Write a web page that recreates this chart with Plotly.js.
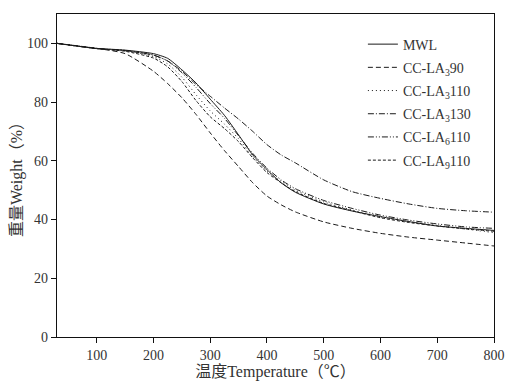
<!DOCTYPE html>
<html>
<head>
<meta charset="utf-8">
<script src="https://cdn.plot.ly/plotly-3.0.1.min.js"></script>
<style>html,body{margin:0;padding:0;background:#fff;}#chart{width:505px;height:382px;}</style>
</head>
<body>
<div id="chart"></div>
<script>
const temps = [30, 100, 150, 200, 225, 250, 275, 300, 325, 350, 375, 400, 425, 450, 500, 550, 600, 650, 700, 750, 800];
const mwl      = [100, 98.3, 97.7, 96.5, 94.9, 91.0, 86.5, 81.0, 75.5, 68.8, 62.0, 57.0, 52.5, 49.3, 45.3, 42.9, 41.0, 39.3, 37.8, 37.0, 36.3];
const la3_90   = [100, 98.3, 96.5, 90.5, 86.3, 81.5, 75.8, 69.5, 63.5, 58.0, 52.5, 48.0, 45.0, 42.6, 39.2, 37.0, 35.3, 34.0, 33.0, 32.0, 31.0];
const la3_110  = [100, 98.2, 97.5, 95.5, 93.0, 88.5, 82.5, 77.0, 72.5, 67.5, 61.5, 56.5, 53.0, 50.0, 46.0, 43.2, 41.0, 39.3, 38.0, 36.8, 35.5];
const la3_130  = [100, 98.2, 97.5, 96.0, 94.0, 90.5, 86.0, 82.0, 78.0, 74.2, 70.0, 65.5, 62.0, 59.3, 53.5, 49.5, 47.2, 45.3, 43.8, 43.0, 42.5];
const la6_110  = [100, 98.3, 97.6, 96.0, 94.0, 90.0, 85.0, 79.5, 74.5, 68.5, 62.5, 57.5, 53.5, 50.5, 46.5, 43.8, 41.5, 39.8, 38.5, 37.5, 37.0];
const la9_110  = [100, 98.2, 97.3, 95.0, 92.0, 87.0, 80.5, 75.0, 71.0, 66.5, 61.0, 56.0, 52.5, 49.5, 45.5, 43.0, 40.6, 39.0, 37.8, 36.8, 36.0];
const names = ["MWL", "CC-LA<sub>3</sub>90", "CC-LA<sub>3</sub>110", "CC-LA<sub>3</sub>130", "CC-LA<sub>6</sub>110", "CC-LA<sub>9</sub>110"];
const series = [mwl, la3_90, la3_110, la3_130, la6_110, la9_110];
const dashes = ["solid", "5px,3px", "1px,3px", "6px,2px,1px,2px", "6px,2px,1px,2px,1px,2px", "3px,2px"];

const traces = series.map((s, i) => ({
  x: temps, y: s, type: "scatter", mode: "lines", name: names[i],
  legendgroup: "g" + i,
  line: {color: "#1a1a1a", width: 1, dash: dashes[i], shape: "spline", smoothing: 0.6}
}));

const font = {family: "Liberation Serif, Noto Sans CJK SC, serif", size: 14, color: "#333"};
const titleFont = {family: "Liberation Serif, Noto Sans CJK SC, serif", size: 16, color: "#333"};
const layout = {
  width: 505, height: 382,
  margin: {l: 57, r: 11, t: 14, b: 45},
  paper_bgcolor: "#fff", plot_bgcolor: "#fff",
  font: font,
  showlegend: true,
  legend: {x: 0.70, y: 0.955, xanchor: "left", yanchor: "top", bgcolor: "rgba(0,0,0,0)",
           font: {family: "Liberation Serif, serif", size: 14, color: "#333"},
           traceorder: "grouped", tracegroupgap: 2},
  xaxis: {range: [30, 800], tickvals: [100, 200, 300, 400, 500, 600, 700, 800],
          showgrid: false, zeroline: false, showline: true, mirror: true, linecolor: "#111", linewidth: 1.2,
          ticks: "outside", ticklen: 5, tickcolor: "#111",
          title: {text: "温度Temperature（℃）", font: titleFont, standoff: 3}},
  yaxis: {range: [0, 110], tickvals: [0, 20, 40, 60, 80, 100],
          showgrid: false, zeroline: false, showline: true, mirror: true, linecolor: "#111", linewidth: 1.2,
          ticks: "outside", ticklen: 5, tickcolor: "#111",
          title: {text: "重量Weight（%）", font: titleFont, standoff: 0}}
};
Plotly.newPlot("chart", traces, layout, {staticPlot: true, displayModeBar: false});
</script>
</body>
</html>
